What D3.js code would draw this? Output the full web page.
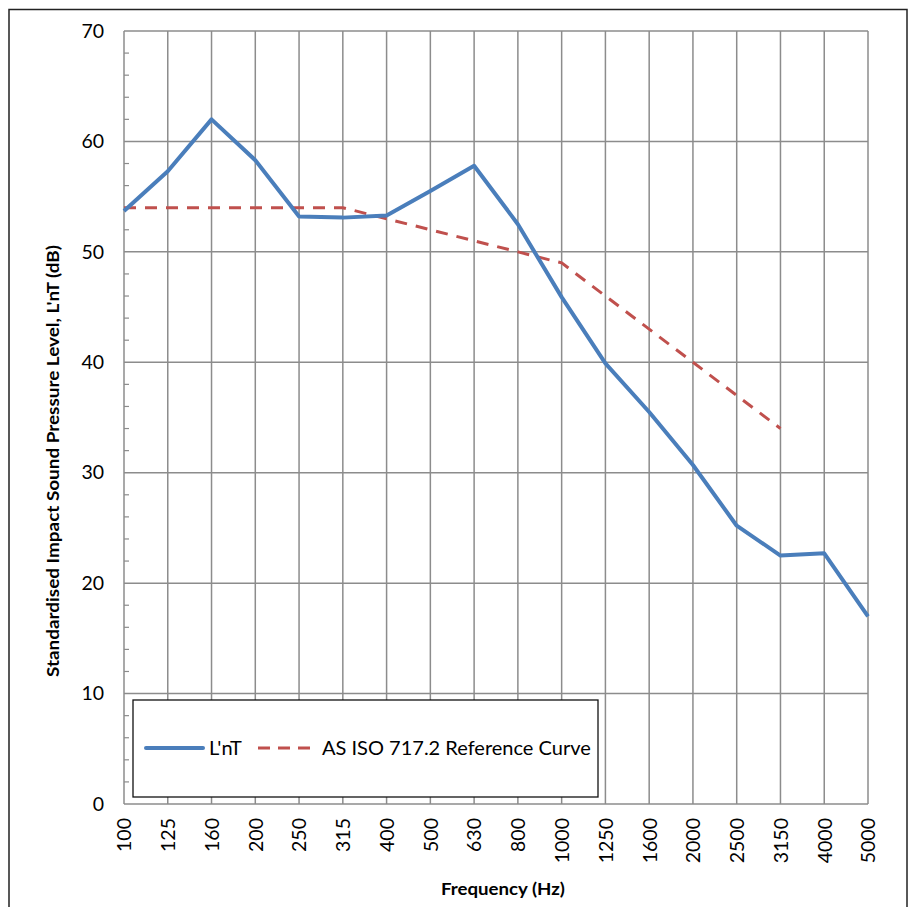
<!DOCTYPE html>
<html>
<head>
<meta charset="utf-8">
<script src="https://cdn.jsdelivr.net/npm/d3@7"></script>
<style>
  body { margin: 0; background: #fff; }
  text { font-family: Lato, "Open Sans", sans-serif; }
</style>
</head>
<body>
<svg id="chart" width="909" height="907"></svg>
<script>
// frequencies (Hz)
const freqs = ["100","125","160","200","250","315","400","500","630","800","1000","1250","1600","2000","2500","3150","4000","5000"];
// measured L'nT
const lnt = [53.7, 57.3, 62.0, 58.3, 53.2, 53.1, 53.3, 55.5, 57.8, 52.5, 45.9, 39.9, 35.5, 30.7, 25.2, 22.5, 22.7, 17.0];
// shifted reference curve (100 - 3150 Hz)
const refCurve = [54, 54, 54, 54, 54, 54, 53, 52, 51, 50, 49, 46, 43, 40, 37, 34];
const yTicks = [0, 10, 20, 30, 40, 50, 60, 70];

const svg = d3.select("#chart");
const margin = { left: 124, right: 41, top: 31, bottom: 103 };
const width = 909, height = 907;

// outer frame
svg.append("rect")
  .attr("x", 9).attr("y", 9.5)
  .attr("width", 898).attr("height", 910)
  .attr("fill", "none").attr("stroke", "#222").attr("stroke-width", 1.5);

let x = d3.scalePoint()
  .domain(freqs)
  .range([margin.left, width - margin.right]);

let y = d3.scaleLinear()
  .domain([0, 70])
  .range([height - margin.bottom, margin.top]);

// gridlines
let grid = svg.append("g").attr("stroke", "#8c8c8c").attr("stroke-width", 1.5);
grid.selectAll("line.h")
  .data(yTicks)
  .join("line")
  .attr("x1", margin.left).attr("x2", width - margin.right)
  .attr("y1", d => y(d)).attr("y2", d => y(d));
grid.selectAll("line.v")
  .data(freqs)
  .join("line")
  .attr("x1", d => x(d)).attr("x2", d => x(d))
  .attr("y1", y(0)).attr("y2", y(70));

// minor ticks on the y axis
svg.append("g").attr("stroke", "#8c8c8c").attr("stroke-width", 1.2)
  .selectAll("line")
  .data(d3.range(0, 70, 2).filter(v => v % 10 != 0))
  .join("line")
  .attr("x1", margin.left).attr("x2", margin.left + 5)
  .attr("y1", d => y(d)).attr("y2", d => y(d));

// y axis
svg.append("g")
  .attr("transform", `translate(${margin.left},0)`)
  .call(d3.axisLeft(y).tickValues(yTicks).tickSize(0).tickPadding(20))
  .call(g => g.select(".domain").remove())
  .call(g => g.selectAll("text").attr("font-size", 19.5).attr("fill", "#000")
    .attr("font-family", "Lato, 'Open Sans', sans-serif"));

// x axis
svg.append("g")
  .attr("transform", `translate(0,${y(0)})`)
  .call(d3.axisBottom(x).tickSize(0).tickPadding(0))
  .call(g => g.select(".domain").remove())
  .call(g => g.selectAll("text")
    .attr("font-size", 19.5).attr("fill", "#000")
    .attr("font-family", "Lato, 'Open Sans', sans-serif")
    .attr("transform", "rotate(-90)")
    .attr("text-anchor", "end")
    .attr("x", -14).attr("y", 0).attr("dy", "0.35em"));

// axis titles
svg.append("text")
  .attr("transform", "translate(59,461) rotate(-90)")
  .attr("text-anchor", "middle")
  .attr("font-size", 17).attr("font-weight", "bold")
  .attr("textLength", 432).attr("lengthAdjust", "spacingAndGlyphs")
  .text("Standardised Impact Sound Pressure Level, L'nT (dB)");

svg.append("text")
  .attr("x", 503)
  .attr("y", 895)
  .attr("text-anchor", "middle")
  .attr("font-size", 17).attr("font-weight", "bold")
  .attr("textLength", 124).attr("lengthAdjust", "spacingAndGlyphs")
  .text("Frequency (Hz)");

// lines
let line = d3.line().x(d => x(d[0])).y(d => y(d[1]));

svg.append("path")
  .datum(refCurve.map((v, i) => [freqs[i], v]))
  .attr("d", line)
  .attr("fill", "none")
  .attr("stroke", "#c0504d")
  .attr("stroke-width", 3)
  .attr("stroke-dasharray", "12,9");

svg.append("path")
  .datum(lnt.map((v, i) => [freqs[i], v]))
  .attr("d", line)
  .attr("fill", "none")
  .attr("stroke", "#4a7ebb")
  .attr("stroke-width", 4)
  .attr("stroke-linejoin", "round");

// legend
let legend = svg.append("g");
legend.append("rect")
  .attr("x", 133).attr("y", 700)
  .attr("width", 465).attr("height", 97)
  .attr("fill", "#fff").attr("stroke", "#111").attr("stroke-width", 1.3);
legend.append("line")
  .attr("x1", 146).attr("x2", 203).attr("y1", 748).attr("y2", 748)
  .attr("stroke", "#4a7ebb").attr("stroke-width", 4).attr("stroke-linecap", "round");
legend.append("text")
  .attr("x", 209).attr("y", 748).attr("dy", "0.35em")
  .attr("font-size", 20).text("L'nT");
legend.append("line")
  .attr("x1", 258).attr("x2", 315).attr("y1", 748).attr("y2", 748)
  .attr("stroke", "#c0504d").attr("stroke-width", 3).attr("stroke-dasharray", "12,8");
legend.append("text")
  .attr("x", 322).attr("y", 748).attr("dy", "0.35em")
  .attr("font-size", 20).text("AS ISO 717.2 Reference Curve");
</script>
</body>
</html>
